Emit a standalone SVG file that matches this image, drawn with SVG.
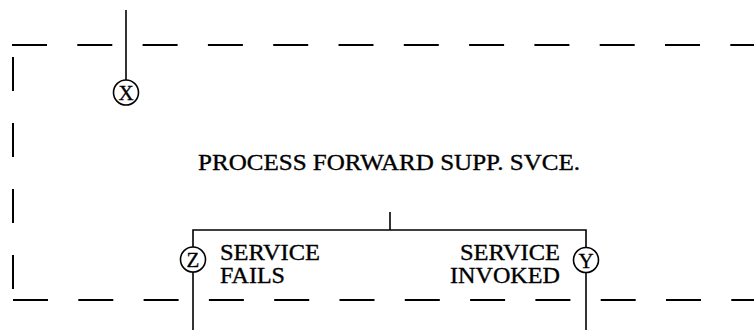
<svg xmlns="http://www.w3.org/2000/svg" width="754" height="330" viewBox="0 0 754 330">
  <style>
    .line { stroke: #000; stroke-width: 1.6; fill: none; }
    .dash { stroke: #000; stroke-width: 2; fill: none; stroke-dasharray: 35 30.3; }
    .vdash { stroke: #000; stroke-width: 2; fill: none; stroke-dasharray: 34 32; }
    .conn { stroke: #000; stroke-width: 1.6; fill: #fff; }
    .lbl { font-family: "Liberation Serif", "Times New Roman", serif; font-size: 23px; fill: #000; stroke: #000; stroke-width: 0.35; }
    .letter { font-family: "Liberation Serif", "Times New Roman", serif; font-size: 21px; fill: #000; text-anchor: middle; stroke: #000; stroke-width: 0.3; }
  </style>
  <rect width="754" height="330" fill="#fff"/>

  <!-- dashed process boundary -->
  <g id="boundary">
    <line class="dash" x1="12" y1="45" x2="754" y2="45"/>
    <line class="dash" x1="13" y1="300" x2="754" y2="300"/>
    <line class="vdash" x1="13" y1="57" x2="13" y2="290"/>
  </g>

  <!-- connecting lines -->
  <g id="connectors">
    <line class="line" x1="126" y1="10" x2="126" y2="80"/>
    <line class="line" x1="390" y1="212" x2="390" y2="230"/>
    <polyline class="line" points="193,247 193,230 586,230 586,247"/>
    <line class="line" x1="193" y1="272" x2="193" y2="330"/>
    <line class="line" x1="586" y1="273" x2="586" y2="330"/>
  </g>

  <g id="node-x">
    <circle class="conn" cx="126" cy="92.5" r="12.5"/>
    <text class="letter" x="126" y="100">X</text>
  </g>

  <g id="node-process">
    <text class="lbl" x="198" y="170" textLength="382" lengthAdjust="spacingAndGlyphs">PROCESS FORWARD SUPP. SVCE.</text>
  </g>

  <g id="node-z">
    <circle class="conn" cx="193" cy="259.5" r="12.5"/>
    <text class="letter" x="193" y="267">Z</text>
    <text class="lbl" x="220" y="260" textLength="100" lengthAdjust="spacingAndGlyphs">SERVICE</text>
    <text class="lbl" x="220" y="283" textLength="65" lengthAdjust="spacingAndGlyphs">FAILS</text>
  </g>

  <g id="node-y">
    <circle class="conn" cx="586" cy="260" r="12.5"/>
    <text class="letter" x="586" y="267.5">Y</text>
    <text class="lbl" x="460" y="260" textLength="100" lengthAdjust="spacingAndGlyphs">SERVICE</text>
    <text class="lbl" x="450" y="283" textLength="110" lengthAdjust="spacingAndGlyphs">INVOKED</text>
  </g>
</svg>
